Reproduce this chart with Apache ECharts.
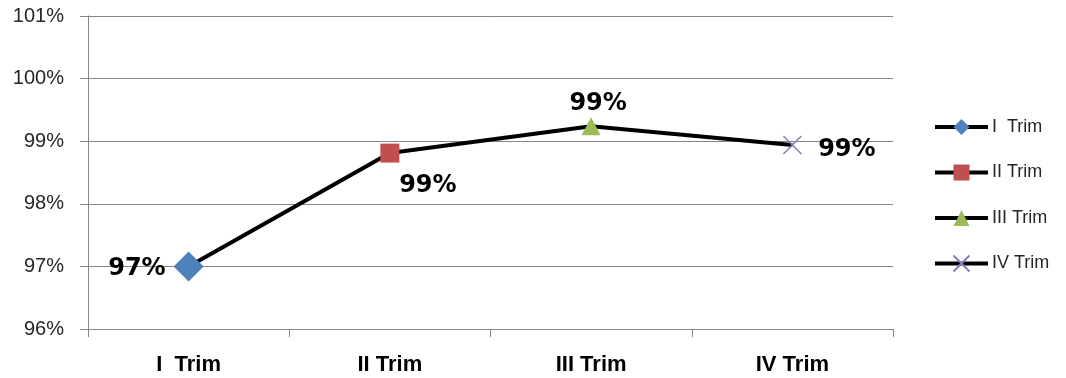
<!DOCTYPE html>
<html>
<head>
<meta charset="utf-8">
<script src="https://cdn.jsdelivr.net/npm/echarts@6/dist/echarts.min.js"></script>
<style>
  html, body { margin: 0; padding: 0; background: #ffffff; }
  #chart { width: 1066px; height: 378px; }
</style>
</head>
<body>
<div id="chart"></div>
<script>
// Quarterly completion rate (percent)
const categories = ['I  Trim', 'II Trim', 'III Trim', 'IV Trim'];
const values = [97.0, 98.81, 99.24, 98.94];
const yTicks = { min: 96, max: 101, step: 1 };

// Per-quarter marker looks
const markerSymbols = ['diamond', 'rect', 'triangle', 'path://M0,0 L10,10 M10,0 L0,10'];
const markerSizes = [30, 19, [19, 18], 18];
const markerColors = ['#4f81bd', '#c0504d', '#9bbb59', '#8a7cba'];
const labelPlacement = [
  { position: 'left', distance: 8, offset: [0, 2] },
  { position: 'bottom', distance: 4, offset: [38, 7] },
  { position: 'top', distance: 4, offset: [7, 3] },
  { position: 'right', distance: 16, offset: [0, 5] }
];

const chart = echarts.init(document.getElementById('chart'), null, { renderer: 'canvas' });

const markerSeries = categories.map(function (name, i) {
  const isCross = i === 3;
  return {
    name: name,
    type: 'line',
    z: 5,
    data: values.map(function (v, j) { return j === i ? v : null; }),
    symbol: markerSymbols[i],
    symbolSize: markerSizes[i],
    showSymbol: true,
    lineStyle: { color: '#000000', width: 4 },
    itemStyle: isCross
      ? { color: 'rgba(0,0,0,0)', borderColor: markerColors[i], borderWidth: 1.5 }
      : { color: markerColors[i], borderWidth: 0 },
    label: {
      show: true,
      position: labelPlacement[i].position,
      distance: labelPlacement[i].distance,
      offset: labelPlacement[i].offset,
      formatter: function (p) { return Math.round(p.value) + '%'; },
      fontFamily: 'DejaVu Sans',
      fontWeight: 'bold',
      fontSize: 24,
      color: '#000000'
    },
    emphasis: { disabled: true },
    animation: false
  };
});

const option = {
  animation: false,
  backgroundColor: '#ffffff',
  grid: { left: 88, right: 173, top: 16, bottom: 49 },
  legend: {
    orient: 'vertical',
    left: 928,
    top: 113,
    itemWidth: 53,
    itemHeight: 20,
    itemGap: 27.5,
    data: categories,
    lineStyle: { width: 4, color: '#000000' },
    textStyle: { fontFamily: 'Liberation Sans', fontSize: 18, color: '#262626', padding: [0, 0, 0, -1] },
    selectedMode: false
  },
  xAxis: {
    type: 'category',
    data: categories,
    boundaryGap: true,
    axisLine: { show: true, lineStyle: { color: '#868686', width: 1 } },
    axisTick: { show: true, length: 8, lineStyle: { color: '#868686' } },
    axisLabel: {
      margin: 25,
      fontFamily: 'Liberation Sans',
      fontWeight: 'bold',
      fontSize: 22,
      color: '#000000'
    },
    splitLine: { show: false }
  },
  yAxis: {
    type: 'value',
    min: yTicks.min,
    max: yTicks.max,
    interval: yTicks.step,
    axisLine: { show: true, lineStyle: { color: '#868686', width: 1 } },
    axisTick: { show: true, length: 8, lineStyle: { color: '#868686' } },
    axisLabel: {
      margin: 24,
      fontFamily: 'Liberation Sans',
      fontSize: 20,
      color: '#262626',
      formatter: function (v) { return v + '%'; }
    },
    splitLine: { show: true, lineStyle: { color: '#868686', width: 1 } }
  },
  series: [
    {
      name: 'trend',
      type: 'line',
      z: 3,
      data: values,
      symbol: 'none',
      lineStyle: { color: '#000000', width: 4 },
      emphasis: { disabled: true },
      animation: false
    }
  ].concat(markerSeries)
};

chart.setOption(option);
</script>
</body>
</html>
